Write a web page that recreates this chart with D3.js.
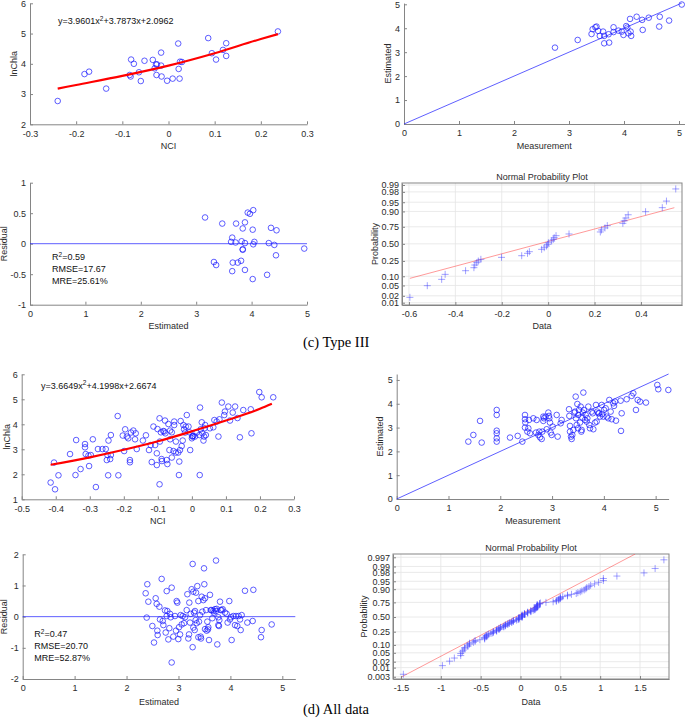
<!DOCTYPE html>
<html>
<head>
<meta charset="utf-8">
<script src="https://cdn.jsdelivr.net/npm/d3@7"></script>
<style>
  body { margin: 0; background: #fff; }
  svg { display: block; }
</style>
</head>
<body>
<div id="chart"></div>
<script>
// ---------- (c) Type III ----------
const t3NCI = [-0.240,-0.182,-0.172,-0.135,-0.084,-0.082,-0.081,-0.075,-0.064,-0.060,-0.052,-0.034,-0.030,-0.027,-0.025,-0.026,-0.016,-0.016,-0.015,-0.003,0.009,0.021,0.022,0.024,0.025,0.029,0.086,0.094,0.103,0.118,0.125,0.125,0.237];
const t3LnChla = [2.77,3.66,3.74,3.18,3.63,3.58,4.14,4.00,3.72,3.43,4.10,4.13,3.85,3.98,3.98,3.63,4.37,3.94,3.58,3.44,3.51,4.67,3.83,3.51,4.07,4.06,4.85,4.35,4.14,4.46,4.68,4.26,5.07];
const t3FitNCI = [-0.240,-0.2,-0.1,0,0.1,0.2,0.237];
const t3FitChla = [3.18,3.30,3.60,3.94,4.35,4.82,4.98];
const t3Equation = ["y=3.9601x", "2", "+3.7873x+2.0962"];

const t3Meas = [2.745,3.158,3.41,3.43,3.48,3.50,3.53,3.56,3.62,3.64,3.64,3.72,3.73,3.81,3.81,3.90,3.96,3.99,4.04,4.06,4.08,4.12,4.11,4.13,4.23,4.34,4.33,4.45,4.64,4.65,4.82,5.05];
const t3Est = [3.19,3.51,3.76,3.96,4.04,4.07,3.89,3.68,3.86,3.37,3.68,3.75,3.40,4.04,3.84,3.90,3.86,3.72,4.09,4.03,3.79,3.86,4.39,3.68,4.48,3.93,4.35,4.44,4.07,4.48,4.32,4.99];
const t3OneToOne = [0, 5.05];

const t3ResEst = [3.16,3.47,3.72,3.88,3.93,3.97,4.03,3.84,4.02,4.35,4.45,3.65,3.63,3.71,3.82,3.88,4.05,4.03,4.31,4.41,3.84,3.84,4.95,4.44,3.32,3.36,3.66,3.75,3.81,3.65,3.88,4.02,4.28];
const t3Res = [0.43,0.33,0.33,0.35,0.51,0.49,0.55,0.25,0.23,0.26,0.22,0.10,0.03,0.02,0.04,0.01,0.03,-0.01,0.01,-0.02,-0.09,-0.10,-0.08,-0.19,-0.30,-0.35,-0.31,-0.31,-0.28,-0.45,-0.43,-0.58,-0.51];
const t3Stats = [["R", "2", "=0.59"], ["RMSE=17.67"], ["MRE=25.61%"]];

// normal probability plot: data value and its normal quantile
const t3ProbData = [-0.596,-0.521,-0.459,-0.444,-0.356,-0.320,-0.316,-0.308,-0.301,-0.290,-0.201,-0.114,-0.089,-0.081,-0.028,-0.017,-0.007,-0.002,0.001,0.015,0.022,0.026,0.034,0.090,0.225,0.230,0.245,0.255,0.322,0.328,0.335,0.345,0.420,0.492,0.510,0.550];
const t3ProbZ = [-2.115,-1.653,-1.403,-1.206,-1.061,-0.942,-0.837,-0.744,-0.679,-0.613,-0.534,-0.468,-0.375,-0.310,-0.217,-0.152,-0.086,-0.020,0.045,0.112,0.178,0.244,0.323,0.390,0.470,0.550,0.630,0.720,0.810,0.910,1.020,1.150,1.270,1.430,1.690,2.170];
const t3RefX = [-0.596, 0.544];
const t3RefZ = [-1.364, 1.429];
const t3ProbLabels = ["0.01","0.02","0.05","0.10","0.25","0.50","0.75","0.90","0.95","0.98","0.99"];

// ---------- (d) All data ----------
const allNCI = [-0.415,-0.402,-0.392,-0.405,-0.358,-0.342,-0.340,-0.327,-0.314,-0.314,-0.312,-0.304,-0.302,-0.297,-0.291,-0.282,-0.276,-0.263,-0.253,-0.250,-0.248,-0.246,-0.245,-0.240,-0.238,-0.238,-0.218,-0.216,-0.203,-0.199,-0.196,-0.191,-0.187,-0.182,-0.182,-0.179,-0.172,-0.167,-0.165,-0.162,-0.144,-0.135,-0.126,-0.121,-0.118,-0.113,-0.108,-0.103,-0.103,-0.101,-0.095,-0.095,-0.094,-0.091,-0.089,-0.088,-0.084,-0.081,-0.079,-0.078,-0.074,-0.072,-0.069,-0.066,-0.064,-0.064,-0.059,-0.059,-0.054,-0.052,-0.052,-0.047,-0.047,-0.040,-0.038,-0.037,-0.035,-0.033,-0.030,-0.027,-0.025,-0.023,-0.020,-0.018,-0.015,-0.010,-0.007,-0.005,0.000,0.001,0.002,0.004,0.009,0.014,0.022,0.023,0.024,0.026,0.029,0.031,0.034,0.036,0.037,0.039,0.041,0.053,0.063,0.066,0.073,0.078,0.081,0.088,0.095,0.097,0.107,0.112,0.120,0.127,0.134,0.141,0.151,0.173,0.175,0.198,0.205,0.239];
const allLnChla = [1.67,1.40,1.96,2.47,2.81,1.97,3.37,2.21,3.21,3.08,2.81,2.75,2.33,2.77,3.40,1.49,3.01,3.01,3.01,2.57,2.77,1.96,3.35,2.61,3.57,2.77,4.33,1.96,3.55,2.93,3.80,3.51,3.44,2.57,2.48,3.67,3.75,3.40,3.64,3.01,3.35,3.56,2.97,3.17,2.49,3.91,3.17,2.37,2.84,3.81,1.60,4.24,3.31,3.68,2.61,2.53,3.73,3.71,4.15,3.64,2.57,2.41,4.01,2.97,3.40,3.75,2.67,3.68,2.93,4.11,3.97,2.87,3.31,2.87,1.97,2.51,2.97,4.13,3.13,3.35,3.97,3.80,3.67,3.91,4.37,3.91,3.68,2.97,3.44,3.51,3.53,3.53,3.51,3.67,3.57,1.97,4.67,3.80,4.08,3.64,3.35,3.51,3.84,3.97,3.57,3.84,3.88,4.17,4.11,3.51,4.20,4.87,4.37,4.51,4.71,4.15,4.47,4.71,4.25,3.48,4.57,4.60,3.64,5.29,5.08,5.08];
const allFitNCI = [-0.415,-0.3,-0.2,-0.1,0,0.1,0.2,0.235];
const allFitChla = [2.38,2.68,2.98,3.32,3.72,4.15,4.62,4.82];
const allEquation = ["y=3.6649x", "2", "+4.1998x+2.6674"];

const allMeas = [1.383,1.480,1.609,1.641,1.931,1.931,1.931,1.931,1.931,1.931,2.188,2.336,2.426,2.477,2.477,2.484,2.477,2.523,2.542,2.555,2.574,2.638,2.690,2.703,2.735,2.754,2.767,2.799,2.812,2.831,2.831,2.844,2.876,2.896,2.928,2.941,2.947,2.960,2.973,2.992,3.012,3.089,3.108,3.166,3.185,3.327,3.333,3.346,3.346,3.366,3.378,3.391,3.411,3.430,3.443,3.456,3.462,3.475,3.488,3.501,3.507,3.520,3.539,3.552,3.565,3.571,3.584,3.591,3.604,3.616,3.636,3.649,3.668,3.681,3.700,3.719,3.732,3.764,3.784,3.797,3.829,3.848,3.861,3.874,3.893,3.906,3.925,3.958,3.970,3.990,4.003,4.035,4.054,4.086,4.105,4.131,4.151,4.183,4.196,4.215,4.234,4.324,4.331,4.344,4.440,4.537,4.569,4.620,4.653,4.698,4.813,5.032,5.051,5.245];
const allEst = [2.41,2.69,3.28,2.37,3.74,3.53,2.87,2.76,2.55,2.41,2.58,2.65,2.41,3.53,3.35,3.21,3.00,2.83,2.97,3.32,2.76,3.39,2.79,3.32,2.69,2.83,2.59,2.52,2.83,3.46,3.28,3.39,3.46,2.93,3.63,3.49,3.39,3.21,2.79,2.69,3.04,3.53,2.62,3.18,3.32,3.77,3.49,3.07,2.83,2.62,2.52,2.69,2.90,3.63,3.67,4.30,3.39,3.11,3.99,2.97,3.53,3.74,3.21,3.88,2.83,2.90,3.42,3.63,4.47,3.74,3.32,3.53,3.25,3.39,3.88,3.11,2.97,3.67,3.60,2.93,3.21,3.95,3.25,3.67,3.60,3.60,3.46,3.95,3.57,3.46,3.74,3.81,3.46,3.39,4.16,3.67,3.35,4.02,3.91,4.09,3.29,4.13,2.86,3.60,4.19,4.33,4.44,3.74,4.16,4.09,4.05,4.79,4.61,4.58];
const allOneToOne = [0, 5.25];

const allResEst = [2.368,2.400,2.388,2.420,2.497,2.529,2.561,2.580,2.593,2.599,2.632,2.644,2.676,2.696,2.709,2.741,2.754,2.773,2.773,2.786,2.805,2.824,2.837,2.850,2.869,2.869,2.901,2.933,2.952,2.965,2.978,2.997,3.010,3.030,3.042,3.062,3.081,3.107,3.126,3.158,3.171,3.190,3.203,3.209,3.222,3.235,3.254,3.273,3.273,3.286,3.286,3.299,3.312,3.318,3.331,3.338,3.350,3.363,3.383,3.383,3.395,3.415,3.427,3.434,3.447,3.460,3.479,3.492,3.498,3.511,3.511,3.530,3.543,3.556,3.569,3.575,3.588,3.607,3.620,3.639,3.652,3.671,3.684,3.703,3.723,3.723,3.736,3.748,3.768,3.768,3.780,3.787,3.800,3.813,3.832,3.851,3.896,3.928,3.947,3.979,3.992,4.011,4.024,4.056,4.089,4.108,4.133,4.159,4.185,4.198,4.217,4.281,4.326,4.429,4.442,4.589,4.602,4.795];
const allRes = [0.75,1.04,-0.03,0.48,-0.30,-0.83,0.59,0.41,-0.45,-0.59,0.32,-0.09,1.21,-0.14,-0.27,0.20,-0.51,0.82,0.02,0.18,-0.73,-0.37,0.09,-0.02,0.93,-1.47,-0.64,0.02,-0.45,0.50,0.45,-0.72,-0.34,-0.57,0.05,-0.25,0.02,-0.21,-0.02,0.21,0.72,-0.70,-0.57,0.45,-0.19,0.09,0.88,1.69,-0.98,-0.35,0.80,0.13,-0.43,0.18,-0.11,0.77,-0.21,0.98,0.50,-0.66,-0.16,0.05,-0.64,-0.70,0.64,0.16,0.53,1.55,1.04,0.59,-0.40,0.21,-0.45,-0.16,-0.41,-0.34,-0.75,0.70,0.21,0.21,-0.05,0.19,0.13,0.24,1.80,0.18,0.25,-0.89,-0.02,-0.27,-0.30,-0.11,0.48,0.21,0.21,0.24,0.13,0.09,-0.19,0.50,-0.09,-0.02,-0.75,0.02,-0.27,0.02,-0.30,0.02,-0.09,-0.43,0.05,0.83,-0.19,-0.14,0.86,-0.66,-0.43,-0.25];
const allStats = [["R", "2", "=0.47"], ["RMSE=20.70"], ["MRE=52.87%"]];
const allRefX = [-1.49, 1.44];
const allRefZ = [-2.75, 2.90];
const allProbLabels = ["0.003","0.01","0.02","0.05","0.10","0.25","0.50","0.75","0.90","0.95","0.98","0.99","0.997"];

const captions = ["(c) Type III", "(d) All data"];

// ---------------------------------------------------------------
const svg = d3.select("#chart").append("svg")
    .attr("width", 685)
    .attr("height", 725);

const font = "'Liberation Sans', Arial, sans-serif";
const axisColor = "#858585";
const textColor = "#2b2b2b";
const blue = "#1a1aff";

// inverse normal cdf (Acklam) for the probability axis
function probit(p) {
    const a = [-39.69683028665376, 220.9460984245205, -275.9285104469687, 138.3577518672690, -30.66479806614716, 2.506628277459239];
    const b = [-54.47609879822406, 161.5858368580409, -155.6989798598866, 66.80131188771972, -13.28068155288572];
    const c = [-0.007784894002430293, -0.3223964580411365, -2.400758277161838, -2.549732539343734, 4.374664141464968, 2.938163982698783];
    const d = [0.007784695709041462, 0.3224671290700398, 2.445134137142996, 3.754408661907416];
    const lo = 0.02425;
    let q, r;
    if (p < lo) {
        q = Math.sqrt(-2 * Math.log(p));
        return (((((c[0]*q+c[1])*q+c[2])*q+c[3])*q+c[4])*q+c[5]) / ((((d[0]*q+d[1])*q+d[2])*q+d[3])*q+1);
    }
    if (p > 1 - lo) {
        q = Math.sqrt(-2 * Math.log(1 - p));
        return -(((((c[0]*q+c[1])*q+c[2])*q+c[3])*q+c[4])*q+c[5]) / ((((d[0]*q+d[1])*q+d[2])*q+d[3])*q+1);
    }
    q = p - 0.5; r = q * q;
    return (((((a[0]*r+a[1])*r+a[2])*r+a[3])*r+a[4])*r+a[5])*q / (((((b[0]*r+b[1])*r+b[2])*r+b[3])*r+b[4])*r+1);
}

const fmt = d => String(+d.toFixed(2));

function styleAxis(g) {
    g.attr("font-family", font).attr("font-size", 9);
    g.select(".domain").attr("stroke", axisColor);
    g.selectAll(".tick line").attr("stroke", axisColor);
    g.selectAll(".tick text").attr("fill", textColor);
}

// draws axes, labels, optional box + grid; returns the panel group
function frame(o) {
    const g = svg.append("g");
    const [x0, x1] = o.x.range();
    const [yb, yt] = o.y.range();

    if (o.grid) {
        g.append("g").selectAll("line").data(o.xt).join("line")
            .attr("x1", d => o.x(d)).attr("x2", d => o.x(d))
            .attr("y1", yt).attr("y2", yb)
            .attr("stroke", "#e4e4e4").attr("stroke-width", 0.8);
        g.append("g").selectAll("line").data(o.ytv).join("line")
            .attr("x1", x0).attr("x2", x1)
            .attr("y1", d => o.y(d)).attr("y2", d => o.y(d))
            .attr("stroke", "#e4e4e4").attr("stroke-width", 0.8);
    }

    const xa = d3.axisBottom(o.x).tickValues(o.xt).tickFormat(o.xf || fmt)
        .tickSizeInner(-3).tickSizeOuter(0).tickPadding(6);
    g.append("g").attr("transform", `translate(0,${yb})`).call(xa).call(styleAxis);

    const ya = d3.axisLeft(o.y).tickValues(o.ytv).tickFormat(o.yf || fmt)
        .tickSizeInner(-3).tickSizeOuter(0).tickPadding(o.box ? 3 : 4);
    g.append("g").attr("transform", `translate(${x0},0)`).call(ya).call(styleAxis);

    if (o.box) {
        g.append("rect")
            .attr("x", x0).attr("y", yt)
            .attr("width", x1 - x0).attr("height", yb - yt)
            .attr("fill", "none").attr("stroke", axisColor);
    }

    const txt = (x, y, s) => g.append("text").attr("x", x).attr("y", y)
        .attr("text-anchor", "middle").attr("font-family", font)
        .attr("font-size", 9).attr("fill", textColor).text(s);

    txt((x0 + x1) / 2, o.xlabY, o.xlab);
    g.append("text")
        .attr("transform", `translate(${o.ylabX},${(yb + yt) / 2}) rotate(-90)`)
        .attr("text-anchor", "middle").attr("font-family", font)
        .attr("font-size", 9).attr("fill", textColor).text(o.ylab);
    if (o.title) txt((x0 + x1) / 2, o.titleY, o.title);
    return g;
}

function circles(g, x, y, xs, ys) {
    g.append("g").selectAll("circle").data(xs).join("circle")
        .attr("cx", d => x(d)).attr("cy", (d, i) => y(ys[i]))
        .attr("r", 2.8)
        .attr("fill", "none").attr("stroke", blue).attr("stroke-width", 0.7);
}

function pluses(g, x, y, xs, zs) {
    g.append("g").selectAll("path").data(xs).join("path")
        .attr("transform", (d, i) => `translate(${x(d)},${y(zs[i])})`)
        .attr("d", "M-3.5,0H3.5M0,-3.5V3.5")
        .attr("stroke", "#3d3dff").attr("stroke-opacity", 0.6).attr("stroke-width", 0.8);
}

function equation(g, x, y, parts) {
    const t = g.append("text").attr("x", x).attr("y", y)
        .attr("font-family", font).attr("font-size", 9).attr("fill", "#111");
    t.append("tspan").text(parts[0]);
    if (parts.length > 1) {
        t.append("tspan").attr("dy", -3.5).attr("font-size", 6.5).text(parts[1]);
        t.append("tspan").attr("dy", 3.5).text(parts[2]);
    }
}

const lineGen = (x, y) => d3.line().x(d => x(d[0])).y(d => y(d[1]));

// ---------- panel 1: lnChla vs NCI (Type III)
{
    const x = d3.scaleLinear().domain([-0.3, 0.3]).range([30, 307]);
    const y = d3.scaleLinear().domain([2, 6]).range([124.3, 3.3]);
    const g = frame({ x, y, xt: d3.range(-3, 4).map(v => v / 10), ytv: [2, 3, 4, 5, 6],
        xlab: "NCI", xlabY: 149, ylab: "lnChla", ylabX: 16.7 });
    circles(g, x, y, t3NCI, t3LnChla);
    g.append("path").datum(t3FitNCI.map((v, i) => [v, t3FitChla[i]]))
        .attr("d", lineGen(x, y).curve(d3.curveMonotoneX))
        .attr("fill", "none").attr("stroke", "#ff0000").attr("stroke-width", 2.2);
    equation(g, 58, 24, t3Equation);
}

// ---------- panel 2: Estimated vs Measurement (Type III)
{
    const x = d3.scaleLinear().domain([0, 5.1]).range([404, 684.5]);
    const y = d3.scaleLinear().domain([0, 5.05]).range([124, 3.1]);
    const g = frame({ x, y, xt: [0, 1, 2, 3, 4, 5], ytv: [0, 1, 2, 3, 4, 5],
        xlab: "Measurement", xlabY: 149, ylab: "Estimated", ylabX: 390.7 });
    g.append("path").datum(t3OneToOne.map(v => [v, v]))
        .attr("d", lineGen(x, y)).attr("stroke", blue).attr("stroke-width", 0.7);
    circles(g, x, y, t3Meas, t3Est);
}

// ---------- panel 3: Residual vs Estimated (Type III)
{
    const x = d3.scaleLinear().domain([0, 5]).range([30, 307]);
    const y = d3.scaleLinear().domain([-1, 1]).range([304.7, 182.7]);
    const g = frame({ x, y, xt: [0, 1, 2, 3, 4, 5], ytv: [-1, -0.5, 0, 0.5, 1],
        xlab: "Estimated", xlabY: 329, ylab: "Residual", ylabX: 6.7 });
    g.append("path").datum(x.domain().map(v => [v, 0]))
        .attr("d", lineGen(x, y)).attr("stroke", blue).attr("stroke-width", 0.7);
    circles(g, x, y, t3ResEst, t3Res);
    t3Stats.forEach((s, i) => equation(g, 52, 260 + i * 12, s));
}

// ---------- panel 4: Normal probability plot (Type III)
{
    const x = d3.scaleLinear().domain([-0.63, 0.577]).range([402, 682]);
    const y = d3.scaleLinear().domain([-2.417, 2.405]).range([305, 183]);
    const ticks = t3ProbLabels.map(Number);
    const g = frame({ x, y, xt: [-0.6, -0.4, -0.2, 0, 0.2, 0.4], ytv: ticks.map(probit),
        yf: (d, i) => t3ProbLabels[i], box: true, grid: true,
        xlab: "Data", xlabY: 329, ylab: "Probability", ylabX: 378.3,
        title: "Normal Probability Plot", titleY: 179.5 });
    g.append("path").datum(t3RefX.map((v, i) => [v, t3RefZ[i]]))
        .attr("d", lineGen(x, y)).attr("stroke", "#ff3030").attr("stroke-opacity", 0.7).attr("stroke-width", 0.7);
    pluses(g, x, y, t3ProbData, t3ProbZ);
}

// ---------- panel 5: lnChla vs NCI (All data)
{
    const x = d3.scaleLinear().domain([-0.5, 0.3]).range([21.7, 294]);
    const y = d3.scaleLinear().domain([1, 6]).range([499.3, 374.3]);
    const g = frame({ x, y, xt: d3.range(-5, 4).map(v => v / 10), ytv: [1, 2, 3, 4, 5, 6],
        xlab: "NCI", xlabY: 524, ylab: "lnChla", ylabX: 10 });
    circles(g, x, y, allNCI, allLnChla);
    g.append("path").datum(allFitNCI.map((v, i) => [v, allFitChla[i]]))
        .attr("d", lineGen(x, y).curve(d3.curveMonotoneX))
        .attr("fill", "none").attr("stroke", "#ff0000").attr("stroke-width", 2.2);
    equation(g, 41, 388.5, allEquation);
}

// ---------- panel 6: Estimated vs Measurement (All data)
{
    const x = d3.scaleLinear().domain([0, 5.25]).range([396.7, 668.6]);
    const y = d3.scaleLinear().domain([0, 5.25]).range([499, 374]);
    const g = frame({ x, y, xt: [0, 1, 2, 3, 4, 5], ytv: [0, 1, 2, 3, 4, 5],
        xlab: "Measurement", xlabY: 524, ylab: "Estimated", ylabX: 383.3 });
    g.append("path").datum(allOneToOne.map(v => [v, v]))
        .attr("d", lineGen(x, y)).attr("stroke", blue).attr("stroke-width", 0.7);
    circles(g, x, y, allMeas, allEst);
}

// ---------- panel 7: Residual vs Estimated (All data)
{
    const x = d3.scaleLinear().domain([0, 5.25]).range([22.7, 295.3]);
    const y = d3.scaleLinear().domain([-2, 2]).range([679, 554.3]);
    const g = frame({ x, y, xt: [0, 1, 2, 3, 4, 5], ytv: [-2, -1, 0, 1, 2],
        xlab: "Estimated", xlabY: 705, ylab: "Residual", ylabX: 6.7 });
    g.append("path").datum(x.domain().map(v => [v, 0]))
        .attr("d", lineGen(x, y)).attr("stroke", blue).attr("stroke-width", 0.7);
    circles(g, x, y, allResEst, allRes);
    allStats.forEach((s, i) => equation(g, 34.3, 637.3 + i * 12, s));
}

// ---------- panel 8: Normal probability plot of the residuals (All data)
{
    const x = d3.scaleLinear().domain([-1.6, 1.864]).range([393, 669]);
    const y = d3.scaleLinear().domain([-2.85, 2.9]).range([679, 554]);
    const ticks = allProbLabels.map(Number);
    const g = frame({ x, y, xt: [-1.5, -1, -0.5, 0, 0.5, 1, 1.5], ytv: ticks.map(probit),
        yf: (d, i) => allProbLabels[i], box: true, grid: true,
        xlab: "Data", xlabY: 705, ylab: "Probability", ylabX: 366.7,
        title: "Normal Probability Plot", titleY: 550.7 });
    svg.append("clipPath").attr("id", "clip8").append("rect")
        .attr("x", 393).attr("y", 554).attr("width", 276).attr("height", 125);
    g.append("path").datum(allRefX.map((v, i) => [v, allRefZ[i]]))
        .attr("clip-path", "url(#clip8)")
        .attr("d", lineGen(x, y)).attr("stroke", "#ff3030").attr("stroke-opacity", 0.7).attr("stroke-width", 0.7);
    // plotting positions of the sorted residuals
    const sorted = allRes.slice().sort(d3.ascending);
    const n = sorted.length;
    pluses(g, x, y, sorted, sorted.map((v, i) => probit((i + 0.5) / n)));
}

// ---------- captions
svg.selectAll(".caption").data(captions).join("text")
    .attr("class", "caption")
    .attr("x", 303)
    .attr("y", (d, i) => i === 0 ? 347 : 714)
    .attr("font-family", "'Liberation Serif', 'Times New Roman', serif")
    .attr("font-size", 14.5)
    .attr("fill", "#000")
    .text(d => d);
</script>
</body>
</html>
